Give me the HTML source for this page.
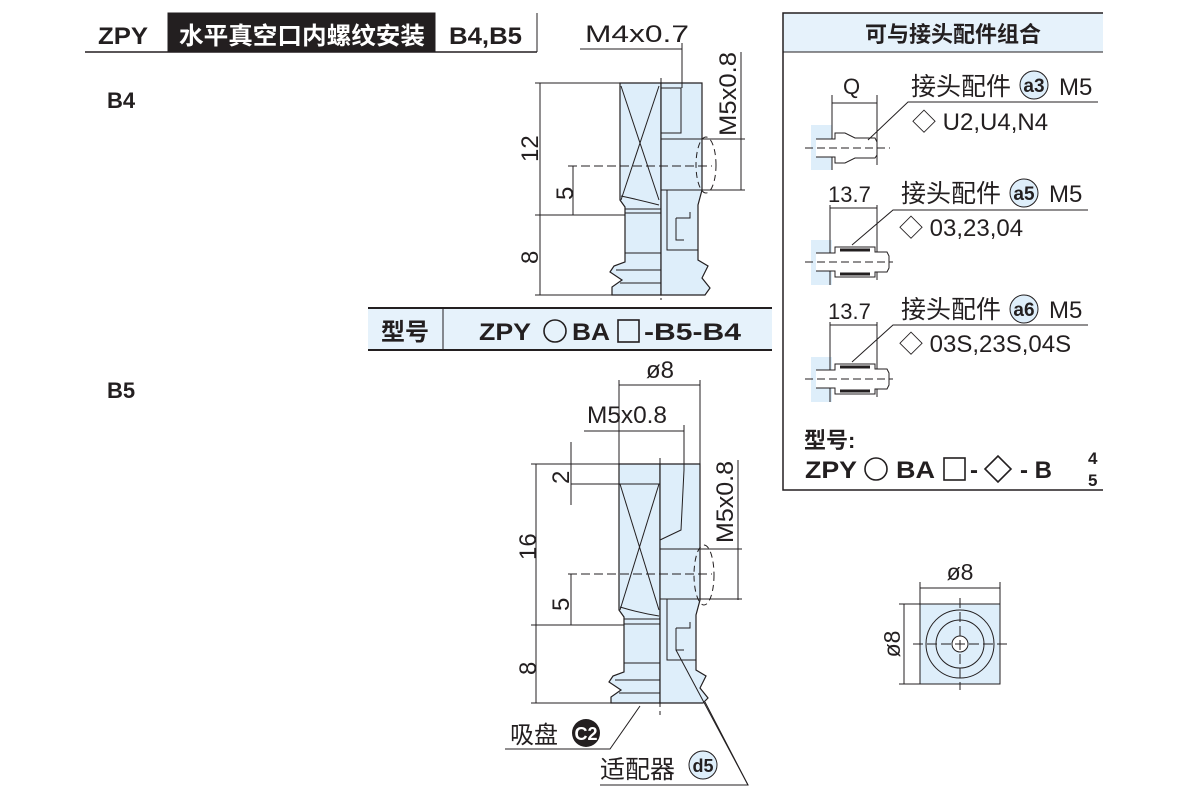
<!DOCTYPE html>
<html><head><meta charset="utf-8"><style>
body{margin:0;background:#fff}
svg{display:block}
text{font-family:"Liberation Sans","Noto Sans CJK SC",sans-serif;fill:#231f20}
.b{font-weight:bold}
</style></head><body>
<svg width="1200" height="800" viewBox="0 0 1200 800" xmlns="http://www.w3.org/2000/svg">
<g stroke="#231f20" fill="none" stroke-width="1">
<rect x="168" y="13" width="267" height="39" fill="#231f20"/>
<line x1="85" y1="52" x2="537" y2="52" stroke-width="1.5"/>
<line x1="537" y1="13" x2="537" y2="52"/>
</g>
<text x="98" y="44" font-size="24" class="b" textLength="50" lengthAdjust="spacingAndGlyphs">ZPY</text>
<text x="179" y="44" font-size="24" class="b" style="fill:#fff" textLength="246" lengthAdjust="spacingAndGlyphs">水平真空口内螺纹安装</text>
<text x="449" y="44" font-size="24" class="b" textLength="73" lengthAdjust="spacingAndGlyphs">B4,B5</text>
<text x="107" y="108" font-size="22" class="b">B4</text>
<text x="107" y="398" font-size="22" class="b">B5</text>

<!-- B4 drawing -->
<g stroke="#231f20" fill="#deeefa" stroke-width="1.2">
<path d="M661,83 L620,83 L620,200 L625,207 L625,262 L614,266 L610,272 L622,280 L612,287 L612,295 L661,295 Z"/>
<path d="M661,83 L702,83 L702,190 L698,205 L698,260 L708,266 L702,278 L710,288 L705,295 L661,295 Z"/>
</g>
<g stroke="#231f20" fill="none" stroke-width="1">
<line x1="621" y1="86" x2="659" y2="200"/><line x1="659" y1="86" x2="621" y2="200"/>
<path d="M621,196 Q640,200 659,205"/>
<line x1="625" y1="209" x2="661" y2="209"/><line x1="625" y1="213" x2="661" y2="213"/>
<line x1="625" y1="253" x2="661" y2="253"/><line x1="616" y1="270" x2="661" y2="270"/><line x1="620" y1="283" x2="661" y2="283"/>
<path d="M661,88 L681,88 L681,133 L661,133"/>
<path d="M661,139 L702,139 M661,190 L702,190"/>
<path d="M667,190 L667,250 L698,250"/>
<path d="M676,218 L690,218 L690,212 M676,218 L676,240 L684,240"/>
<line x1="661" y1="78" x2="661" y2="300" stroke-dasharray="7,4"/>
<ellipse cx="706" cy="165" rx="10" ry="28" stroke-dasharray="6,4"/>
<line x1="568" y1="166" x2="712" y2="166" stroke-dasharray="9,4"/>
<line x1="540" y1="83" x2="540" y2="295"/>
<line x1="535" y1="83" x2="620" y2="83"/>
<line x1="535" y1="215" x2="625" y2="215"/>
<line x1="535" y1="295" x2="616" y2="295"/>
<line x1="573" y1="166" x2="573" y2="215"/>
<line x1="580" y1="49" x2="682" y2="49"/><line x1="682" y1="43" x2="682" y2="88"/>
<line x1="741" y1="52" x2="741" y2="190"/>
<line x1="702" y1="139" x2="745" y2="139"/><line x1="702" y1="190" x2="745" y2="190"/>
</g>
<text x="585" y="42" font-size="24" textLength="104" lengthAdjust="spacingAndGlyphs">M4x0.7</text>
<text transform="translate(736,136) rotate(-90)" font-size="24" textLength="84" lengthAdjust="spacingAndGlyphs">M5x0.8</text>
<text transform="translate(538,162) rotate(-90)" font-size="24">12</text>
<text transform="translate(573,200) rotate(-90)" font-size="24">5</text>
<text transform="translate(538,264) rotate(-90)" font-size="24">8</text>

<!-- model table -->
<rect x="368" y="308" width="404" height="42" fill="#e6f2fb"/>
<g stroke="#231f20" stroke-width="2"><line x1="368" y1="308" x2="772" y2="308"/><line x1="368" y1="350" x2="772" y2="350"/></g>
<line x1="443" y1="308" x2="443" y2="350" stroke="#231f20"/>
<text x="381" y="340" font-size="24" class="b">型号</text>
<text x="479" y="340" font-size="24" class="b" textLength="52" lengthAdjust="spacingAndGlyphs">ZPY</text>
<circle cx="555" cy="331" r="11" fill="none" stroke="#231f20" stroke-width="1.6"/>
<text x="572" y="340" font-size="24" class="b" textLength="38" lengthAdjust="spacingAndGlyphs">BA</text>
<rect x="618" y="320" width="21" height="22" fill="none" stroke="#231f20" stroke-width="1.6"/>
<text x="644" y="340" font-size="24" class="b" textLength="97" lengthAdjust="spacingAndGlyphs">-B5-B4</text>

<!-- B5 drawing -->
<g stroke="#231f20" fill="#deeefa" stroke-width="1.2">
<path d="M660,464 L619,464 L619,610 L624,617 L624,672 L613,676 L609,682 L621,690 L611,697 L611,703 L660,703 Z"/>
<path d="M660,464 L700,464 L700,600 L696,615 L696,670 L706,676 L700,688 L708,698 L703,703 L660,703 Z"/>
</g>
<g stroke="#231f20" fill="none" stroke-width="1">
<line x1="620" y1="484" x2="659" y2="610"/><line x1="659" y1="484" x2="620" y2="610"/>
<line x1="571" y1="484" x2="660" y2="484"/>
<path d="M620,607 Q640,613 659,616"/>
<line x1="624" y1="619" x2="660" y2="619"/><line x1="624" y1="624" x2="660" y2="624"/>
<line x1="624" y1="663" x2="660" y2="663"/><line x1="615" y1="680" x2="660" y2="680"/><line x1="619" y1="693" x2="660" y2="693"/>
<path d="M660,540 L681,530 L684,470 L684,464"/>
<path d="M660,549 L700,549 M660,599 L700,599"/>
<path d="M667,599 L667,660 L696,660"/>
<path d="M676,628 L690,628 L690,622 M676,628 L676,650 L684,650"/>
<line x1="660" y1="458" x2="660" y2="715" stroke-dasharray="7,4"/>
<ellipse cx="704" cy="575" rx="10" ry="30" stroke-dasharray="6,4"/>
<line x1="568" y1="574" x2="712" y2="574" stroke-dasharray="9,4"/>
<line x1="536" y1="464" x2="536" y2="703"/>
<line x1="531" y1="464" x2="700" y2="464"/>
<line x1="531" y1="625" x2="624" y2="625"/>
<line x1="531" y1="703" x2="616" y2="703"/>
<line x1="571" y1="442" x2="571" y2="505"/>
<line x1="571" y1="574" x2="571" y2="625"/>
<line x1="619" y1="385" x2="700" y2="385"/><line x1="619" y1="380" x2="619" y2="464"/><line x1="700" y1="380" x2="700" y2="464"/>
<line x1="584" y1="431" x2="684" y2="431"/><line x1="684" y1="425" x2="684" y2="470"/>
<line x1="738" y1="460" x2="738" y2="600"/>
<line x1="700" y1="549" x2="742" y2="549"/><line x1="700" y1="599" x2="742" y2="599"/>
<polyline points="505,749 610,749 640,706"/>
<polyline points="600,785 748,785 705,702"/>
<line x1="748" y1="785" x2="676" y2="650"/>
</g>
<text x="646" y="378" font-size="24">ø8</text>
<text x="587" y="423" font-size="24" textLength="80" lengthAdjust="spacingAndGlyphs">M5x0.8</text>
<text transform="translate(733,543) rotate(-90)" font-size="24" textLength="82" lengthAdjust="spacingAndGlyphs">M5x0.8</text>
<text transform="translate(569,484) rotate(-90)" font-size="24">2</text>
<text transform="translate(536,560) rotate(-90)" font-size="24">16</text>
<text transform="translate(569,611) rotate(-90)" font-size="24">5</text>
<text transform="translate(536,675) rotate(-90)" font-size="24">8</text>
<text x="510" y="743" font-size="24">吸盘</text>
<circle cx="586" cy="733" r="14" fill="#231f20"/>
<text x="586" y="740" font-size="18" class="b" text-anchor="middle" style="fill:#fff">C2</text>
<text x="600" y="778" font-size="25">适配器</text>
<circle cx="703" cy="765" r="14" fill="#deeefa" stroke="#231f20"/>
<text x="703" y="772" font-size="18" class="b" text-anchor="middle">d5</text>

<!-- right panel -->
<rect x="783" y="13" width="320" height="39" fill="#e6f2fb"/>
<g stroke="#231f20" fill="none" stroke-width="1.5">
<polyline points="1103,13 783,13 783,490 1103,490"/>
<line x1="783" y1="52" x2="1103" y2="52" stroke-width="1"/>
</g>
<text x="953" y="42" font-size="22" class="b" text-anchor="middle">可与接头配件组合</text>

<g stroke="#231f20" fill="none" stroke-width="1">
<rect x="811" y="125" width="21" height="45" fill="#deeefa" stroke="none"/>
<rect x="811" y="240" width="21" height="45" fill="#deeefa" stroke="none"/>
<rect x="811" y="357" width="21" height="45" fill="#deeefa" stroke="none"/>
<line x1="832" y1="95" x2="832" y2="170"/><line x1="877" y1="95" x2="877" y2="165"/>
<line x1="832" y1="103" x2="877" y2="103"/>
<path d="M816,139 L835,139 L835,133 L845,133 L855,138 L875,138 L877,142 L877,155 L875,158 L855,158 L845,163 L835,163 L835,157 L816,157" fill="#fff"/>
<line x1="805" y1="148" x2="890" y2="148" stroke-dasharray="8,4"/>
<polyline points="1098,102 908,102 868,140"/>
<line x1="830" y1="205" x2="830" y2="285"/><line x1="877" y1="205" x2="877" y2="280"/>
<line x1="830" y1="208" x2="877" y2="208"/>
<path d="M816,253 L835,253 L835,247 L875,247 L875,252 L887,252 L889,256 L889,268 L887,272 L875,272 L875,277 L835,277 L835,271 L816,271" fill="#fff"/>
<path d="M840,250 L870,250 M840,274 L870,274" stroke-width="3"/>
<line x1="805" y1="262" x2="893" y2="262" stroke-dasharray="8,4"/>
<polyline points="1088,210 893,210 852,245"/>
<line x1="830" y1="322" x2="830" y2="402"/><line x1="877" y1="322" x2="877" y2="397"/>
<line x1="830" y1="325" x2="877" y2="325"/>
<path d="M816,370 L835,370 L835,364 L875,364 L875,369 L887,369 L889,373 L889,385 L887,389 L875,389 L875,394 L835,394 L835,388 L816,388" fill="#fff"/>
<path d="M840,367 L870,367 M840,391 L870,391" stroke-width="3"/>
<line x1="805" y1="379" x2="893" y2="379" stroke-dasharray="8,4"/>
<polyline points="1088,325 893,325 852,362"/>
</g>
<text x="843" y="94" font-size="22">Q</text>
<text x="911" y="95" font-size="25">接头配件</text>
<circle cx="1034" cy="85" r="14" fill="#deeefa" stroke="#231f20"/>
<text x="1034" y="92" font-size="19" class="b" text-anchor="middle">a3</text>
<text x="1059" y="95" font-size="24">M5</text>
<text x="912" y="130" font-size="24">◇ U2,U4,N4</text>
<text x="828" y="202" font-size="22">13.7</text>
<text x="901" y="202" font-size="25">接头配件</text>
<circle cx="1024" cy="193" r="14" fill="#deeefa" stroke="#231f20"/>
<text x="1024" y="200" font-size="19" class="b" text-anchor="middle">a5</text>
<text x="1049" y="202" font-size="24">M5</text>
<text x="899" y="236" font-size="24">◇ 03,23,04</text>
<text x="828" y="319" font-size="22">13.7</text>
<text x="901" y="318" font-size="25">接头配件</text>
<circle cx="1024" cy="309" r="14" fill="#deeefa" stroke="#231f20"/>
<text x="1024" y="316" font-size="19" class="b" text-anchor="middle">a6</text>
<text x="1049" y="318" font-size="24">M5</text>
<text x="899" y="352" font-size="24">◇ 03S,23S,04S</text>

<text x="804" y="448" font-size="22" class="b">型号:</text>
<text x="805" y="478" font-size="24" class="b" textLength="52" lengthAdjust="spacingAndGlyphs">ZPY</text>
<circle cx="876" cy="469" r="11" fill="none" stroke="#231f20" stroke-width="1.6"/>
<text x="896" y="478" font-size="24" class="b" textLength="39" lengthAdjust="spacingAndGlyphs">BA</text>
<rect x="944" y="458" width="21" height="22" fill="none" stroke="#231f20" stroke-width="1.6"/>
<text x="970" y="478" font-size="24" class="b">-</text>
<path d="M985,469 L998,456 L1011,469 L998,482 Z" fill="none" stroke="#231f20" stroke-width="1.6"/>
<text x="1020" y="478" font-size="24" class="b">- B</text>
<text x="1088" y="464" font-size="17" class="b">4</text>
<text x="1088" y="486" font-size="17" class="b">5</text>

<g stroke="#231f20" fill="none" stroke-width="1">
<rect x="920" y="604" width="80" height="80" fill="#deeefa"/>
<circle cx="960" cy="644" r="34"/><circle cx="960" cy="644" r="24"/><circle cx="960" cy="644" r="8" fill="#fff"/>
<line x1="960" y1="598" x2="960" y2="690" stroke-dasharray="10,4"/>
<line x1="913" y1="644" x2="1007" y2="644" stroke-dasharray="10,4"/>
<line x1="920" y1="588" x2="1000" y2="588"/><line x1="920" y1="582" x2="920" y2="604"/><line x1="1000" y1="582" x2="1000" y2="604"/>
<line x1="904" y1="604" x2="904" y2="684"/><line x1="899" y1="604" x2="920" y2="604"/><line x1="899" y1="684" x2="920" y2="684"/>
</g>
<text x="960" y="580" font-size="23" text-anchor="middle">ø8</text>
<text transform="translate(900,644) rotate(-90)" font-size="23" text-anchor="middle">ø8</text>
</svg>
</body></html>
